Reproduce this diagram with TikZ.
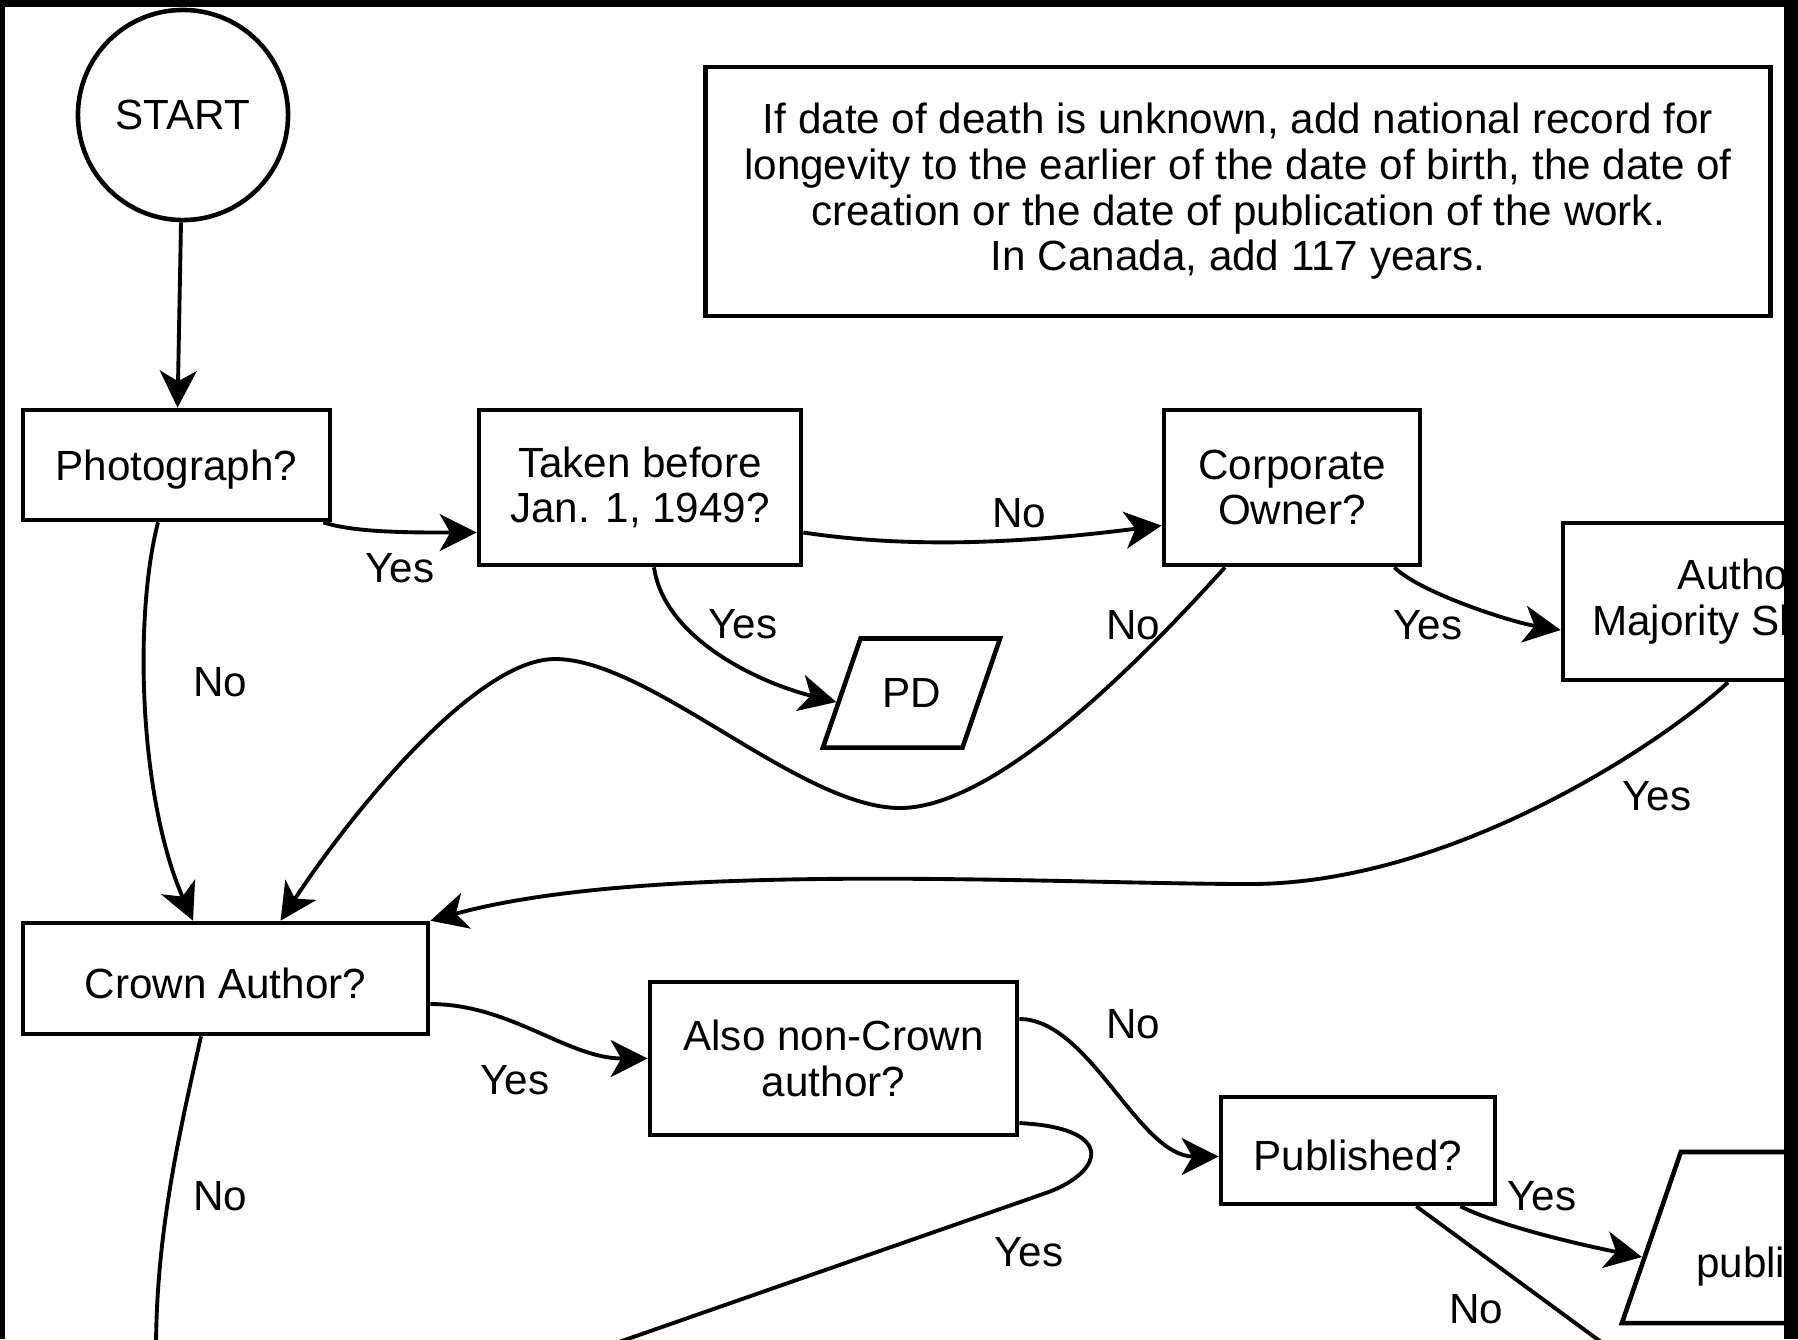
\documentclass[tikz,border=0pt]{standalone}
\usepackage{fontspec}
\setmainfont{Liberation Sans}
\usetikzlibrary{arrows.meta,shapes.geometric}

\tikzset{
  box/.style={draw, line width=1.3pt, align=center, inner sep=2pt,
    execute at begin node={\rule{0pt}{11.5pt}}},
  io/.style={draw, line width=1.3pt, trapezium, trapezium left angle=71,
    trapezium right angle=109, trapezium stretches body=true, inner xsep=2pt},
  arr/.style={line width=1.1pt, -{Stealth[length=10.5pt,width=10.5pt,inset=3pt]}},
  link/.style={line width=1.1pt},
  lbl/.style={inner sep=0pt}
}

\begin{document}
\begin{tikzpicture}[x=0.01cm, y=-0.01cm, font=\fontsize{12}{13}\selectfont]
  \useasboundingbox (0,0) rectangle (1798,1339);
  \fill[white] (0,0) rectangle (1798,1339);

  % decision boxes
  \node[draw, circle, line width=1.3pt, minimum size=2.1cm, inner sep=0pt] (start) at (183,115) {START};
  \node[box, minimum width=3.07cm, minimum height=1.1cm] (photo) at (176.5,465) {Photograph?};
  \node[box, minimum width=3.22cm, minimum height=1.55cm] (taken) at (640,487.5) {Taken before\\Jan. 1, 1949?};
  \node[box, minimum width=2.56cm, minimum height=1.55cm] (corp) at (1292,487.5) {Corporate\\Owner?};
  \node[box, minimum width=3.54cm, minimum height=1.57cm] (author) at (1740,601.5) {Author\\Majority Share?};
  \node[io, minimum width=1.77cm, inner ysep=0.4cm] (pd) at (911.5,693) {PD};
  \node[box, minimum width=4.05cm, minimum height=1.11cm] (crown) at (225.5,978.5) {Crown Author?};
  \node[box, minimum width=3.67cm, minimum height=1.53cm] (also) at (833.5,1058.5) {Also non-Crown\\author?};
  \node[box, minimum width=2.74cm, minimum height=1.07cm] (pub) at (1358,1150.5) {Published?};
  \node[io, minimum width=3.5cm, inner ysep=0.855cm] (pubpd) at (1797,1237.5) {\raisebox{-0.40cm}[0pt][0pt]{publication}};
  \node[box, minimum width=10.64cm, minimum height=2.49cm] (note) at (1238,191.5)
    {If date of death is unknown, add national record for\\longevity to the earlier of the date of birth, the date of\\creation or the date of publication of the work.\\In Canada, add 117 years.};

  % loose ends
  \coordinate (noout) at (156,1350);
  \coordinate (yesout) at (596,1350);
  \coordinate (pubno) at (1612,1350);

  % connectors
  \draw[arr] (start) -- (photo);
  \draw[arr] ([xshift=-0.09cm]photo.south east) .. controls +(30,10) and +(-70,0) .. ([yshift=-0.45cm]taken.west);
  \draw[arr] ([xshift=-0.185cm]photo.south) .. controls (133,620) and (140,800) .. ([xshift=-0.325cm]crown.north);
  \draw[arr] ([yshift=-0.45cm]taken.east) .. controls +(120,18) and +(-120,15) .. ([yshift=-0.38cm]corp.west);
  \draw[arr] ([xshift=0.14cm]taken.south) .. controls +(10,70) and +(-80,-20) .. ([xshift=-0.03cm,yshift=-0.09cm]pd.west);
  \draw[arr] ([xshift=-0.28cm]corp.south east) .. controls +(25,25) and +(-50,-8) .. ([yshift=-0.285cm]author.west);
  \draw[arr] ([xshift=-0.67cm]corp.south) .. controls (1150,650) and (1000,808) .. (900,808)
    .. controls (800,808) and (650,659) .. (555,659)
    .. controls (475,659) and (350,815) .. ([xshift=0.55cm]crown.north);
  \draw[arr] ([xshift=-0.12cm]author.south) .. controls (1660,745) and (1450,884) .. (1250,884)
    .. controls (1050,884) and (650,860) .. (crown.north east);
  \draw[arr] ([yshift=-0.255cm]crown.east) .. controls +(80,0) and +(-80,0) .. (also.west);
  \draw[link] ([xshift=-0.245cm]crown.south) .. controls +(-20,90) and +(0,-120) .. (noout);
  \draw[arr] ([yshift=0.395cm]also.east) .. controls +(70,0) and +(-80,0) .. ([yshift=-0.06cm]pub.west);
  \draw[link] ([yshift=-0.645cm]also.east) .. controls +(100,5) and +(60,-20) .. (1043,1194) -- (yesout);
  \draw[arr] ([xshift=-0.37cm]pub.south east) .. controls +(40,20) and +(-60,-12) .. ([xshift=-0.07cm,yshift=-0.195cm]pubpd.west);
  \draw[link] ([xshift=-0.81cm]pub.south east) -- (pubno);

  % answers
  \node[lbl] (lphotoyes) at (400,568) {Yes};
  \node[lbl] (lphotono) at (220,682) {No};
  \node[lbl] (ltakenno) at (1019,513) {No};
  \node[lbl] (ltakenyes) at (743,624) {Yes};
  \node[lbl] (lcorpno) at (1133,625) {No};
  \node[lbl] (lcorpyes) at (1428,625) {Yes};
  \node[lbl] (lauthyes) at (1657,796) {Yes};
  \node[lbl] (lcrownyes) at (515,1080) {Yes};
  \node[lbl] (lcrownno) at (220,1196) {No};
  \node[lbl] (lalsono) at (1133,1024) {No};
  \node[lbl] (lalsoyes) at (1029,1252) {Yes};
  \node[lbl] (lpubyes) at (1542,1196) {Yes};
  \node[lbl] (lpubno) at (1476,1309) {No};

  % cropped frame
  \fill[black] (0,0) rectangle (1798,7);
  \fill[black] (0,0) rectangle (5,1339);
  \fill[black] (1784,0) rectangle (1798,1339);
\end{tikzpicture}
\end{document}
